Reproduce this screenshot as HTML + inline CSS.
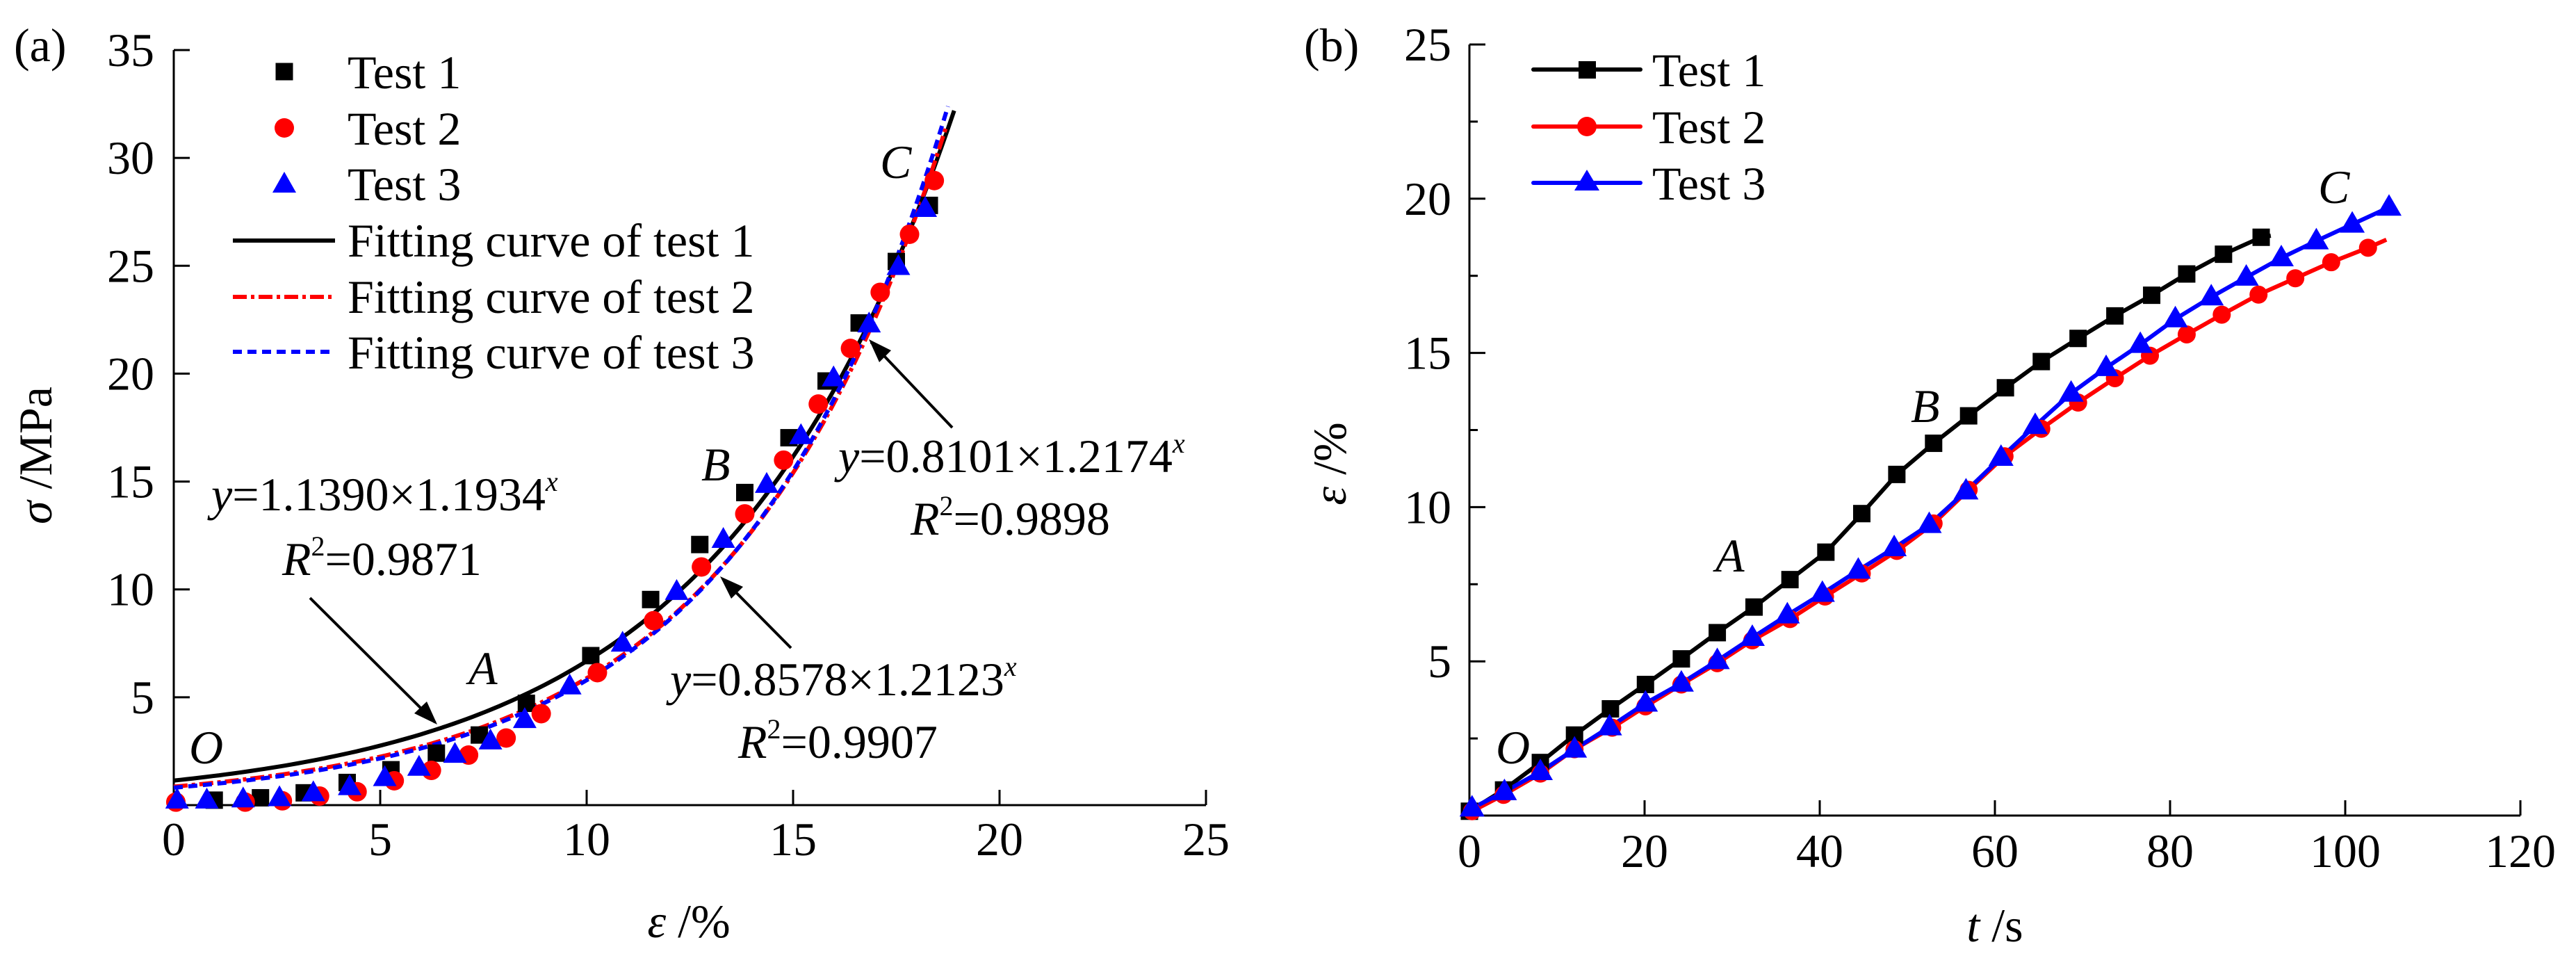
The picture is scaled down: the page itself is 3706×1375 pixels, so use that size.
<!DOCTYPE html>
<html><head><meta charset="utf-8"><style>
body{margin:0;background:#fff}
svg{display:block;font-family:"Liberation Serif","Times New Roman",serif}
</style></head><body>
<svg id="fig" width="3706" height="1375" viewBox="0 0 3706 1375" xmlns="http://www.w3.org/2000/svg">
<g id="pa"></g>
<g id="pb"></g>
</svg>
<script>
// ---- Panel (a) data ----
const aXTicks = [0, 5, 10, 15, 20, 25];
const aYTicks = [5, 10, 15, 20, 25, 30, 35];
const t1x = [0.98,2.1,3.16,4.2,5.26,6.36,7.4,8.54,10.1,11.55,12.74,13.83,14.9,15.8,16.6,17.5,18.3];
const t1y = [0.23,0.34,0.57,1.05,1.64,2.41,3.25,4.72,6.93,9.53,12.08,14.49,17.03,19.66,22.35,25.2,27.8];
const t2x = [0.05,1.73,2.63,3.53,4.44,5.34,6.24,7.14,8.05,8.9,10.26,11.62,12.78,13.83,14.77,15.61,16.39,17.11,17.82,18.42];
const t2y = [0.14,0.14,0.2,0.42,0.62,1.13,1.61,2.32,3.11,4.24,6.14,8.55,11.04,13.5,15.99,18.59,21.17,23.77,26.46,28.95];
const t3x = [0.08,0.8,1.68,2.56,3.38,4.26,5.11,5.94,6.81,7.67,8.5,9.59,10.87,12.18,13.31,14.36,15.19,15.98,16.84,17.55,18.2];
const t3y = [0.23,0.23,0.28,0.34,0.57,0.85,1.27,1.75,2.35,2.97,3.96,5.52,7.5,9.9,12.31,14.86,17.12,19.8,22.3,24.96,27.65];
const fitA = [1.1390, 0.8578, 0.8101];
const fitB = [1.1934, 1.2123, 1.2174];
const fitXmax = [18.9, 18.7, 18.75];

// ---- Panel (b) data ----
const bXTicks = [0, 20, 40, 60, 80, 100, 120];
const bYTicks = [5, 10, 15, 20, 25];
const b1t = [0,3.9,8.1,12.0,16.1,20.1,24.2,28.3,32.5,36.6,40.7,44.8,48.8,53.0,57.0,61.2,65.3,69.5,73.7,77.9,81.9,86.1,90.4];
const b1e = [0.14,0.83,1.72,2.61,3.46,4.25,5.08,5.93,6.76,7.65,8.54,9.79,11.06,12.07,12.96,13.87,14.72,15.47,16.2,16.87,17.56,18.2,18.75];
const b2t = [0.3,3.9,8.1,12.0,16.3,20.1,24.2,28.3,32.3,36.6,40.6,44.8,48.8,53.0,57.0,61.1,65.3,69.5,73.7,77.7,81.9,85.9,90.1,94.3,98.4,102.6];
const b2e = [0.14,0.67,1.36,2.15,2.85,3.54,4.25,4.94,5.68,6.37,7.1,7.85,8.58,9.47,10.56,11.65,12.54,13.39,14.18,14.91,15.6,16.24,16.89,17.42,17.94,18.41];
const b3t = [0.3,4.0,8.1,12.0,16.0,20.1,24.2,28.3,32.3,36.3,40.3,44.4,48.5,52.5,56.7,60.7,64.6,68.7,72.7,76.6,80.6,84.7,88.7,92.7,96.7,100.8,105.0];
const b3e = [0.24,0.77,1.42,2.15,2.87,3.64,4.29,5.02,5.77,6.5,7.2,7.95,8.68,9.43,10.52,11.61,12.64,13.69,14.52,15.27,16.1,16.81,17.45,18.08,18.63,19.17,19.72];

const NS = "http://www.w3.org/2000/svg";
function mk(parent, tag, attrs, text){
  const e = document.createElementNS(NS, tag);
  for (const k in attrs) e.setAttribute(k, attrs[k]);
  if (text !== undefined) e.textContent = text;
  parent.appendChild(e);
  return e;
}
const FS = 68;

// ===== Panel (a) =====
const pa = document.getElementById('pa');
const ax = v => 250 + v * (1735 - 250) / 25;
const ay = v => 1158 - v * (1158 - 72) / 35;

let e;
e = mk(pa, 'line', {x1:250, y1:1158, x2:1735, y2:1158, stroke:'#000', 'stroke-width':3});


e = mk(pa, 'line', {x1:250, y1:1159, x2:250, y2:72, stroke:'#000', 'stroke-width':3});


aXTicks.forEach(v => {
  if (v > 0) mk(pa, 'line', {x1:ax(v), y1:1158, x2:ax(v), y2:1136, stroke:'#000', 'stroke-width':3});
  e = mk(pa, 'text', {x:ax(v), y:1230, 'font-size':FS, 'text-anchor':'middle'}, String(v));
  
  
});
aYTicks.forEach(v => {
  mk(pa, 'line', {x1:250, y1:ay(v), x2:273, y2:ay(v), stroke:'#000', 'stroke-width':3});
  e = mk(pa, 'text', {x:222, y:ay(v) + 23, 'font-size':FS, 'text-anchor':'end'}, String(v));
  
  
});

const fitStyles = [
  {stroke:'#000', 'stroke-width':6, dash:null, name:'fit-curve-test-1'},
  {stroke:'#f00', 'stroke-width':6, dash:'20,6,5,6', name:'fit-curve-test-2'},
  {stroke:'#00f', 'stroke-width':6, dash:'13,8', name:'fit-curve-test-3'}
];
[0,1,2].forEach(i => {
  let d = '';
  const n = 120;
  for (let k = 0; k <= n; k++) {
    const x = fitXmax[i] * k / n;
    const y = fitA[i] * Math.pow(fitB[i], x);
    d += (k ? 'L' : 'M') + ax(x).toFixed(1) + ',' + ay(y).toFixed(1);
  }
  const s = fitStyles[i];
  e = mk(pa, 'path', {d:d, fill:'none', stroke:s.stroke, 'stroke-width':s['stroke-width']});
  if (s.dash) e.setAttribute('stroke-dasharray', s.dash);
  
  
});

function square(p, cx, cy, s, fill){ return mk(p, 'rect', {x:cx - s/2, y:cy - s/2, width:s, height:s, fill:fill}); }
function circ(p, cx, cy, r, fill){ return mk(p, 'circle', {cx:cx, cy:cy, r:r, fill:fill}); }
function tri(p, cx, cy, w, h, fill){ return mk(p, 'polygon', {points:`${cx},${cy - h*0.6} ${cx - w/2},${cy + h*0.4} ${cx + w/2},${cy + h*0.4}`, fill:fill}); }

t1x.forEach((v, i) => {
  e = square(pa, ax(v), ay(t1y[i]), 25, '#000');
  
  
});
t2x.forEach((v, i) => {
  e = circ(pa, ax(v), ay(t2y[i]), 14, '#f00');
  
  
});
t3x.forEach((v, i) => {
  e = tri(pa, ax(v), ay(t3y[i]), 34, 30, '#00f');
  
  
});

const legA = mk(pa, 'g', {});


square(legA, 409, 103, 25, '#000');
circ(legA, 409, 184, 14, '#f00');
tri(legA, 409, 265, 34, 30, '#00f');
mk(legA, 'line', {x1:335, y1:346, x2:482, y2:346, stroke:'#000', 'stroke-width':6});
mk(legA, 'line', {x1:335, y1:427, x2:482, y2:427, stroke:'#f00', 'stroke-width':6, 'stroke-dasharray':'20,6,5,6'});
mk(legA, 'line', {x1:335, y1:506, x2:482, y2:506, stroke:'#00f', 'stroke-width':6, 'stroke-dasharray':'13,8'});
['Test 1','Test 2','Test 3','Fitting curve of test 1','Fitting curve of test 2','Fitting curve of test 3'].forEach((t, i) => {
  e = mk(legA, 'text', {x:500, y:[127,208,288,369,450,530][i], 'font-size':FS}, t);
  
  
});
</script>
<script>
(function(){
const pa = document.getElementById('pa');
pa.insertAdjacentHTML('beforeend', `
<text x="20" y="88" font-size="68">(a)</text>
<text transform="translate(74,655) rotate(-90)" font-size="68" text-anchor="middle"><tspan font-style="italic">σ</tspan> /MPa</text>
<text x="991" y="1348" font-size="68" text-anchor="middle"><tspan font-style="italic">ε</tspan> /%</text>
<text x="272" y="1098" font-size="68" font-style="italic">O</text>
<text x="674" y="984" font-size="68" font-style="italic">A</text>
<text x="1009" y="691" font-size="68" font-style="italic">B</text>
<text x="1266" y="256" font-size="68" font-style="italic">C</text>
<text x="304" y="734" font-size="68"><tspan font-style="italic">y</tspan>=1.1390×1.1934<tspan font-style="italic" font-size="40" dy="-28">x</tspan></text>
<text x="406" y="827" font-size="68"><tspan font-style="italic">R</tspan><tspan font-size="40" dy="-28">2</tspan><tspan dy="28">=0.9871</tspan></text>
<text x="964" y="1000" font-size="68"><tspan font-style="italic">y</tspan>=0.8578×1.2123<tspan font-style="italic" font-size="40" dy="-28">x</tspan></text>
<text x="1062" y="1090" font-size="68"><tspan font-style="italic">R</tspan><tspan font-size="40" dy="-28">2</tspan><tspan dy="28">=0.9907</tspan></text>
<text x="1206" y="679" font-size="68"><tspan font-style="italic">y</tspan>=0.8101×1.2174<tspan font-style="italic" font-size="40" dy="-28">x</tspan></text>
<text x="1310" y="769" font-size="68"><tspan font-style="italic">R</tspan><tspan font-size="40" dy="-28">2</tspan><tspan dy="28">=0.9898</tspan></text>
<g stroke="#000" stroke-width="4">
<line x1="446" y1="860" x2="626" y2="1039"/>
<polygon points="629,1042 596,1026 614,1009" fill="#000" stroke="none"/>
<line x1="1138" y1="932" x2="1040" y2="833"/>
<polygon points="1036,829 1052,861 1069,844" fill="#000" stroke="none"/>
<line x1="1370" y1="615" x2="1253" y2="492"/>
<polygon points="1250,488 1265,521 1282,504" fill="#000" stroke="none"/>
</g>`);
})();
</script>
<script>
(function(){
const pb = document.getElementById('pb');
const bx = v => 2114 + v * (3626 - 2114) / 120;
const by = v => 1173 - v * (1173 - 64) / 25;
function mk(parent, tag, attrs, text){
  const e = document.createElementNS("http://www.w3.org/2000/svg", tag);
  for (const k in attrs) e.setAttribute(k, attrs[k]);
  if (text !== undefined) e.textContent = text;
  parent.appendChild(e);
  return e;
}
let e;
e = mk(pb, 'line', {x1:2114, y1:1173, x2:3626, y2:1173, stroke:'#000', 'stroke-width':3});


e = mk(pb, 'line', {x1:2114, y1:1174, x2:2114, y2:64, stroke:'#000', 'stroke-width':3});


bXTicks.forEach(v => {
  if (v > 0) mk(pb, 'line', {x1:bx(v), y1:1173, x2:bx(v), y2:1151, stroke:'#000', 'stroke-width':3});
  e = mk(pb, 'text', {x:bx(v), y:1247, 'font-size':68, 'text-anchor':'middle'}, String(v));
  
  
});
bYTicks.forEach(v => {
  mk(pb, 'line', {x1:2114, y1:by(v), x2:2137, y2:by(v), stroke:'#000', 'stroke-width':3});
  mk(pb, 'line', {x1:2114, y1:by(v - 2.5), x2:2126, y2:by(v - 2.5), stroke:'#000', 'stroke-width':3});
  e = mk(pb, 'text', {x:2088, y:by(v) + 23, 'font-size':68, 'text-anchor':'end'}, String(v));
  
  
});
const series = [
  {t:b1t, e:b1e, c:'#000', m:'sq', name:'test-1', end:[91.5, 18.8]},
  {t:b2t, e:b2e, c:'#f00', m:'ci', name:'test-2', end:[104.7, 18.67]},
  {t:b3t, e:b3e, c:'#00f', m:'tr', name:'test-3', end:null}
];
series.forEach(s => {
  let d = s.t.map((t, i) => (i ? 'L' : 'M') + bx(t).toFixed(1) + ',' + by(s.e[i]).toFixed(1)).join('');
  if (s.end) d += 'L' + bx(s.end[0]).toFixed(1) + ',' + by(s.end[1]).toFixed(1);
  e = mk(pb, 'path', {d:d, fill:'none', stroke:s.c, 'stroke-width':6, 'stroke-linejoin':'round'});
  
  
});
series.forEach(s => {
  s.t.forEach((t, i) => {
    const cx = bx(t), cy = by(s.e[i]);
    if (s.m === 'sq') e = mk(pb, 'rect', {x:cx - 12.5, y:cy - 12.5, width:25, height:25, fill:s.c});
    else if (s.m === 'ci') e = mk(pb, 'circle', {cx:cx, cy:cy, r:13, fill:s.c});
    else e = mk(pb, 'polygon', {points:`${cx},${cy - 19} ${cx - 18},${cy + 12} ${cx + 18},${cy + 12}`, fill:s.c});
    
    
  });
});
pb.insertAdjacentHTML('beforeend', `
<g>
<line x1="2206" y1="100" x2="2360" y2="100" stroke="#000" stroke-width="6" stroke-linecap="round"/>
<rect x="2271" y="88" width="25" height="25" fill="#000"/>
<text x="2377" y="124" font-size="68">Test 1</text>
<line x1="2206" y1="182" x2="2360" y2="182" stroke="#f00" stroke-width="6" stroke-linecap="round"/>
<circle cx="2283" cy="182" r="14" fill="#f00"/>
<text x="2377" y="206" font-size="68">Test 2</text>
<line x1="2206" y1="263" x2="2360" y2="263" stroke="#00f" stroke-width="6" stroke-linecap="round"/>
<polygon points="2283,244 2265,274 2301,274" fill="#00f"/>
<text x="2377" y="287" font-size="68">Test 3</text>
</g>
<text x="1876" y="88" font-size="68">(b)</text>
<text transform="translate(1936,667) rotate(-90)" font-size="68" text-anchor="middle"><tspan font-style="italic">ε</tspan> /%</text>
<text x="2870" y="1354" font-size="68" text-anchor="middle"><tspan font-style="italic">t</tspan> /s</text>
<text x="2152" y="1098" font-size="68" font-style="italic">O</text>
<text x="2468" y="822" font-size="68" font-style="italic">A</text>
<text x="2749" y="607" font-size="68" font-style="italic">B</text>
<text x="3335" y="292" font-size="68" font-style="italic">C</text>
`);
})();
</script>
</body></html>
